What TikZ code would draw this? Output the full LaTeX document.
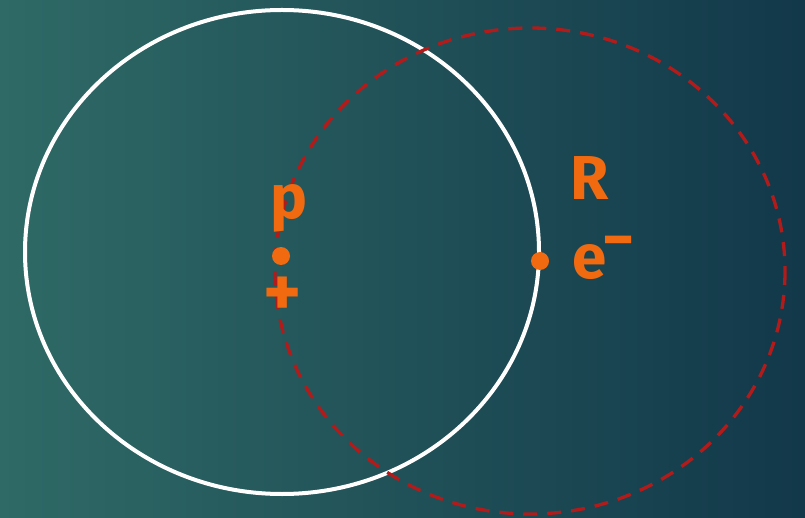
\documentclass[tikz,border=0pt]{standalone}
\usepackage{fontspec}
\setsansfont{Fira Sans}
\usetikzlibrary{positioning}

\definecolor{bgleft}{HTML}{2F6A66}
\definecolor{bgright}{HTML}{12384A}
\definecolor{ink}{HTML}{F26A10}
\definecolor{dashred}{HTML}{B31B1B}

\begin{document}
\begin{tikzpicture}[
    x=1pt, y=-1pt,
    orbit/.style={draw=white, line width=4pt},
    path2/.style={draw=dashred, line width=3.3pt, dash pattern=on 14pt off 10pt},
    particle/.style={circle, fill=ink, inner sep=0pt, minimum size=18pt},
    hand/.style={text=ink, font=\sffamily\bfseries\fontsize{62}{62}\selectfont, inner sep=0pt},
  ]

  % background
  \shade[left color=bgleft, right color=bgright] (0,0) rectangle (805,518);
  \useasboundingbox (0,0) rectangle (805,518);

  % orbits
  \draw[orbit] (282,252) ellipse [x radius=257, y radius=242];
  \draw[path2] (530,271) ellipse [x radius=255, y radius=243];

  % particles
  \node[particle] (proton)   at (281,256) {};
  \node[particle] (electron) at (540,261) {};

  % labels
  \node[hand] (plabel) at (289,208) {p};
  \node[hand, font=\sffamily\bfseries\fontsize{72}{72}\selectfont] (plus) at (283,297) {+};
  \node[hand] (radius) at (590,178) {R};
  \node[hand] (elabel) at (590,262) {e};
  \node[hand] (minus)  at (619,248) {−};

\end{tikzpicture}
\end{document}
